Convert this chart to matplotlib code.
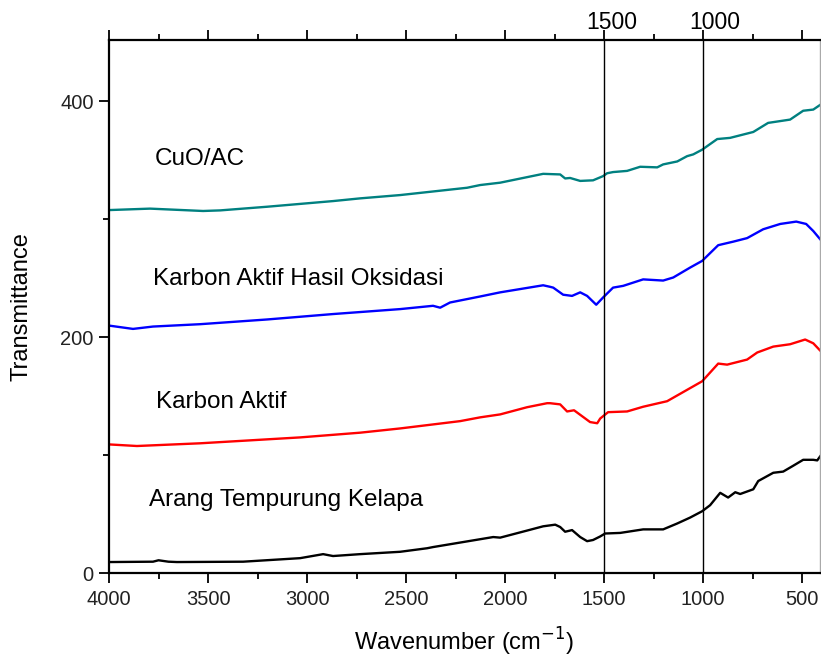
import numpy as np
import matplotlib.pyplot as plt
from matplotlib.ticker import MultipleLocator
import matplotlib.transforms as mtransforms

plt.rcParams['font.family'] = ['Liberation Sans', 'DejaVu Sans']

# FTIR spectra (wavenumber in cm-1)
arang_wn = [3995, 3778, 3750, 3700, 3657, 3323, 3035, 2919, 2869, 2732, 2530, 2394, 2364, 2060, 2025,
            1889, 1808, 1747, 1722, 1697, 1662, 1621, 1586, 1556, 1520, 1495, 1419, 1303,
            1202, 1131, 1066, 1005, 965, 914, 874, 838, 813, 747, 722, 646, 596, 545, 495,
            444, 424, 409]
arang_t = [9.3, 9.6, 10.8, 9.6, 9.3, 9.6, 12.6, 16.0, 14.4, 16.0, 18.0, 21.0, 22.0, 30.5, 30.0,
           36.0, 39.6, 41.0, 39.0, 35.0, 36.4, 30.5, 27.0, 28.0, 31.0, 33.5, 34.0, 37.0,
           37.0, 42.0, 47.0, 52.4, 57.5, 68.0, 64.0, 68.5, 67.0, 71.0, 78.0, 85.0, 86.0, 91.0, 96.0,
           96.0, 95.5, 99.0]

ka_wn = [3995, 3859, 3540, 3035, 2732, 2530, 2227, 2126, 2025, 1889, 1788, 1773, 1722,
         1687, 1652, 1571, 1535, 1520, 1480, 1384, 1303, 1182, 1116, 1005, 924, 879, 778,
         727, 646, 561, 485, 444, 409]
ka_t = [109.0, 107.7, 110.0, 115.0, 119.0, 122.6, 128.8, 132.0, 134.5, 140.6, 144.0, 144.0, 143.0,
        137.0, 138.0, 128.0, 127.0, 131.0, 136.4, 137.0, 141.0, 145.7, 152.0, 162.6, 177.6, 176.7, 181.0,
        187.0, 192.0, 194.0, 198.0, 194.8, 188.6]

kaho_wn = [3995, 3879, 3778, 3540, 3202, 2869, 2530, 2364, 2328, 2278, 2126, 2025, 1808,
           1773, 1757, 1707, 1662, 1621, 1586, 1540, 1505, 1455, 1404, 1303, 1202, 1151,
           1066, 1005, 924, 848, 778, 697, 611, 530, 480, 444, 409]
kaho_t = [209.7, 207.0, 209.0, 211.0, 215.0, 219.6, 223.8, 226.6, 225.0, 229.4, 234.5, 238.0, 244.0,
          242.7, 242.0, 236.0, 235.0, 238.0, 235.0, 227.5, 233.7, 242.0, 243.5, 249.0, 248.0, 250.6,
          259.0, 264.7, 278.0, 281.0, 284.0, 291.5, 296.0, 298.0, 296.0, 290.0, 283.0]

cuo_wn = [3995, 3793, 3525, 3439, 3202, 2869, 2732, 2530, 2192, 2126, 2025, 1808, 1722,
          1697, 1672, 1621, 1556, 1505, 1485, 1455, 1384, 1318, 1232, 1202, 1131, 1081,
          1050, 1005, 929, 864, 747, 672, 561, 495, 444, 409]
cuo_t = [307.8, 309.0, 307.0, 307.5, 310.6, 315.4, 317.7, 320.5, 326.7, 329.0, 331.0, 338.5, 338.0,
         334.6, 335.0, 332.5, 333.0, 336.6, 339.0, 340.0, 341.0, 344.5, 344.0, 346.5, 349.0, 353.5,
         355.0, 359.0, 368.0, 369.0, 374.0, 381.7, 384.5, 392.0, 393.0, 397.0]

series = [
    (arang_wn, arang_t, 'black', 'Arang Tempurung Kelapa', 3798, 61.7),
    (ka_wn, ka_t, '#ff0000', 'Karbon Aktif', 3763, 144.6),
    (kaho_wn, kaho_t, '#0000ff', 'Karbon Aktif Hasil Oksidasi', 3778, 249.5),
    (cuo_wn, cuo_t, '#008080', 'CuO/AC', 3768, 351.0),
]
mark_lines = [1500, 1000]

fig = plt.figure(figsize=(8.21, 6.6), dpi=100)
ax = fig.add_axes([0.1328, 0.1318, 0.866, 0.8076])

for wn, t, col, name, lx, ly in series:
    ax.plot(wn, t, color=col, lw=1.7)
    ax.text(lx, ly, name, fontsize=17.5, va='center', ha='left')

for x in mark_lines:
    ax.axvline(x, color='black', lw=1.0)

ax.set_xlim(4000, 410)
ax.set_ylim(0, 452)

ax.xaxis.set_major_locator(MultipleLocator(500))
ax.xaxis.set_minor_locator(MultipleLocator(250))
ax.yaxis.set_major_locator(MultipleLocator(200))
ax.yaxis.set_minor_locator(MultipleLocator(100))
ax.tick_params(which='both', direction='out', width=1.3, labelsize=14.5, labelcolor='#222222')
ax.tick_params(which='major', length=7)
ax.tick_params(which='minor', length=4)
ax.tick_params(axis='x', which='both', top=True, bottom=True, labeltop=False)
ax.tick_params(axis='y', which='both', right=False, pad=4)
ax.tick_params(axis='x', pad=5)

for s in ['left', 'bottom', 'top']:
    ax.spines[s].set_linewidth(1.6)
ax.spines['right'].set_color('#aaaaaa')
ax.spines['right'].set_linewidth(1.0)

trans = mtransforms.blended_transform_factory(ax.transData, ax.transAxes)
for x, lab in zip([1460, 940], ['1500', '1000']):
    ax.text(x, 1.02, lab, transform=trans, ha='center', va='baseline', fontsize=16.5)

ax.set_xlabel('Wavenumber (cm$^{-1}$)', fontsize=17, labelpad=12)
ax.set_ylabel('Transmittance', fontsize=17, labelpad=20)

fig.savefig('out.png', dpi=100)
